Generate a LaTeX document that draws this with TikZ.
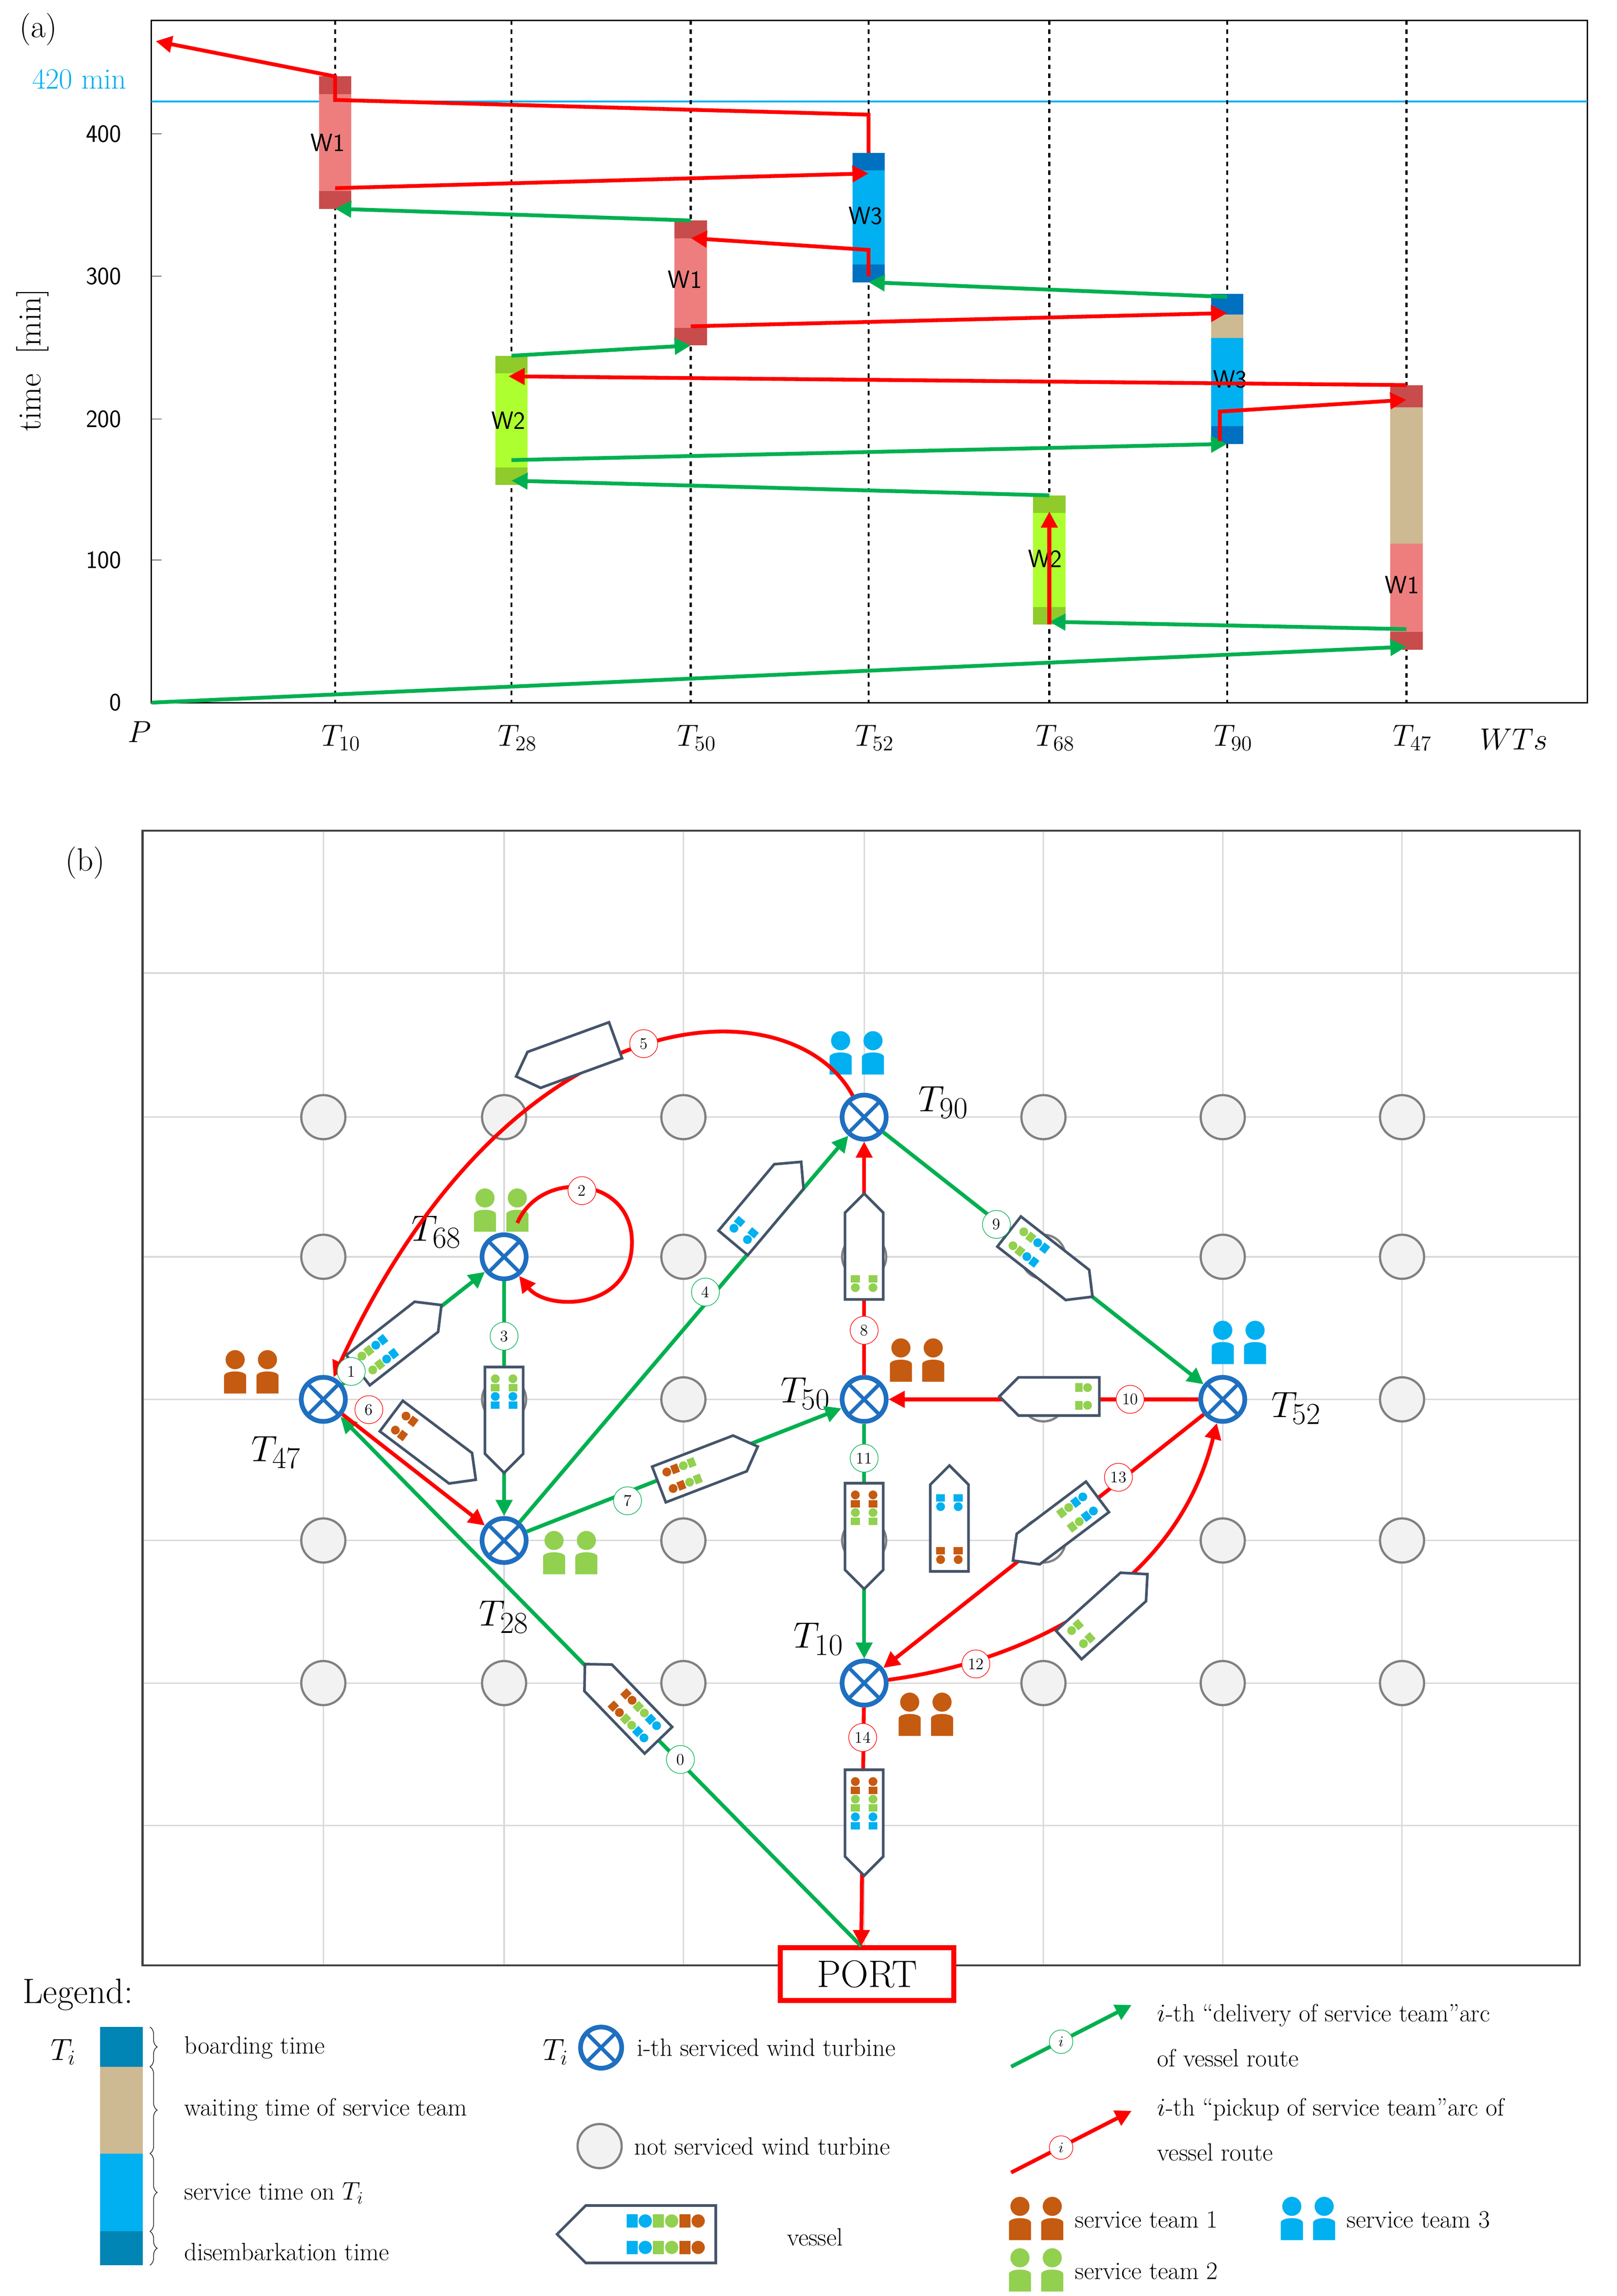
\documentclass[tikz,border=0pt]{standalone}
\usetikzlibrary{arrows.meta,decorations.pathreplacing}
\definecolor{rd}{HTML}{FF0000}
\definecolor{gn}{HTML}{00B050}
\definecolor{tb}{HTML}{1F6FC0}
\definecolor{tbrown}{HTML}{C55A11}
\definecolor{tgreen}{HTML}{92D050}
\definecolor{tblue}{HTML}{00B0F0}
\definecolor{vedge}{HTML}{44546A}
\definecolor{pinkw}{HTML}{EE7E7E}
\definecolor{pinkd}{HTML}{C84C4C}
\definecolor{bluew}{HTML}{00B0F0}
\definecolor{blued}{HTML}{0070C0}
\definecolor{greenw}{HTML}{ADFF2F}
\definecolor{greend}{HTML}{8FCB2A}
\definecolor{tan}{HTML}{CDB992}
\definecolor{cyanl}{HTML}{00B0F0}
\definecolor{lgb}{HTML}{0085B5}
\newcommand\fs[1]{\fontsize{#1}{#1}\selectfont}
\newcommand\vsl[5]{%
 \begin{scope}[shift={(#1,#2)},rotate=-#3]
 \draw[vesl] (-#4/2,-13)--(#4/2-13,-13)--(#4/2,0)--(#4/2-13,13)--(-#4/2,13)--cycle;
 \foreach \c [count=\k] in {#5} {
   \pgfmathsetmacro\xx{-#4/2-4+\k*12}
   \foreach \yy in {-6,6} {
     \fill[\c] (\xx,\yy) circle (3);
     \fill[\c] (\xx+3.5,\yy-3) rectangle (\xx+8.5,\yy+3);}
 }
 \end{scope}}
\newcommand\team[3]{%
 \foreach \dx in {-11,11}{
  \fill[#1] (#2+\dx,#3-9) circle (6.5);
  \fill[#1] (#2+\dx-7.5,#3+14) -- (#2+\dx-7.5,#3+2) arc (180:360:7.5 and 3) -- (#2+\dx+7.5,#3+14) -- cycle;}}
\newcommand\wbar[5]{\fill[#4] (#1-11,#2) rectangle (#1+11,#3);
 \fill[#5] (#1-11,#2) rectangle (#1+11,#2+12); \fill[#5] (#1-11,#3-12) rectangle (#1+11,#3);}
\tikzset{
 x=1pt,y=-1pt,
 wt/.style={circle,draw=tb,line width=3.2pt,minimum size=30pt,inner sep=0pt,fill=white,
   path picture={\draw[tb,line width=2.5pt] (path picture bounding box.south west)--(path picture bounding box.north east) (path picture bounding box.north west)--(path picture bounding box.south east);}},
 nwt/.style={circle,draw=gray,line width=1.5pt,fill=black!5,minimum size=30pt,inner sep=0pt},
 vesl/.style={draw=vedge,line width=1.8pt,fill=white,line join=miter},
 rarr/.style={draw=rd,line width=2.6pt,-{Triangle[length=11pt,width=11pt]}},
 garr/.style={draw=gn,line width=2.6pt,-{Triangle[length=11pt,width=11pt]}},
 lab/.style={circle,draw=#1,fill=white,inner sep=0pt,minimum size=19pt,font=\fs{11}},
 tlab/.style={font=\fs{29}},
 grid/.style={draw=black!15,line width=1pt},
 ax/.style={font=\fs{22}},
 wl/.style={font=\sffamily\fs{17}},
 legt/.style={font=\fs{17},anchor=west},
}
\begin{document}
\begin{tikzpicture}
\useasboundingbox (0,0) rectangle (1100,1562);
\fill[white] (0,0) rectangle (1100,1562);
%================ panel (a)
\node[font=\fs{22}] (pa) at (26,20) {(a)};
\draw[black,line width=1pt] (103,14) rectangle (1080,478);
\draw[cyanl,line width=1.2pt] (103,69) -- (1080,69);
\node[font=\fs{20},text=cyanl] (min420) at (54,54) {420 min};
\foreach \y/\t in {478/0,381/100,285/200,188/300,91/400}{
  \node[wl,anchor=east] at (86,\y) {\t};
  \draw (103,\y) -- (110,\y);}
\node[rotate=90,font=\fs{22}] (tl) at (22,245) {time\ \ [min]};
\foreach \x in {228,348,470,591,714,835,957}{
  \draw[dashed,line width=1.3pt] (\x,14) -- (\x,478);}
\node[ax] at (95,498) {$P$};
\foreach \x/\t in {228/10,348/28,470/50,591/52,714/68,835/90,957/47}{
  \node[ax] at (\x+4,502) {$T_{\t}$};}
\node[ax] at (1030,503) {$WTs$};
% bars
\wbar{228}{52}{142}{pinkw}{pinkd}
\wbar{470}{150}{235}{pinkw}{pinkd}
\wbar{591}{104}{192}{bluew}{blued}
\wbar{348}{242}{330}{greenw}{greend}
\wbar{714}{337}{425}{greenw}{greend}
\fill[bluew] (824,200) rectangle (846,302);
\fill[blued] (824,200) rectangle (846,214);
\fill[tan] (824,214) rectangle (846,230);
\fill[blued] (824,290) rectangle (846,302);
\fill[tan] (946,262) rectangle (968,442);
\fill[pinkd] (946,262) rectangle (968,277);
\fill[pinkw] (946,370) rectangle (968,430);
\fill[pinkd] (946,430) rectangle (968,442);
\node[wl] at (223,97) {W1};
\node[wl] at (466,190) {W1};
\node[wl] at (589,147) {W3};
\node[wl] at (346,286) {W2};
\node[wl] at (711,380) {W2};
\node[wl] at (837,258) {W3};
\node[wl] at (954,398) {W1};
% arrows (a)
\draw[garr] (103,478) -- (957,440);
\draw[garr] (957,428) -- (714,423);
\draw[rarr] (714,425) -- (714,348);
\draw[garr] (714,337) -- (348,327);
\draw[garr] (348,313) -- (835,302);
\draw[rarr] (830,300) -- (830,280) -- (957,272);
\draw[rarr] (957,262) -- (346,256);
\draw[garr] (348,242) -- (470,235);
\draw[rarr] (470,222) -- (835,213);
\draw[garr] (835,202) -- (591,192);
\draw[rarr] (591,188) -- (591,170) -- (470,162);
\draw[garr] (470,150) -- (228,142);
\draw[rarr] (228,128) -- (591,118);
\draw[rarr] (591,104) -- (591,78) -- (228,68) -- (228,52) -- (106,28);
%================ panel (b)
\node[font=\fs{22}] (pb) at (58,587) {(b)};
\foreach \x in {220,343,465,588,710,832,954}{\draw[grid] (\x,565) -- (\x,1337);}
\foreach \y in {662,760,855,952,1048,1145,1242}{\draw[grid] (97,\y) -- (1075,\y);}
\draw[black!75,line width=1.3pt] (97,565) rectangle (1075,1337);
\foreach \x in {220,343,465,588,710,832,954}{
 \foreach \y in {760,855,952,1048,1145}{
   \node[nwt] at (\x,\y) {};}}
\node[wt] (t90) at (588,760) {};
\node[wt] (t68) at (343,855) {};
\node[wt] (t47) at (220,952) {};
\node[wt] (t50) at (588,952) {};
\node[wt] (t52) at (832,952) {};
\node[wt] (t28) at (343,1048) {};
\node[wt] (t10) at (588,1145) {};
\node[draw=rd,line width=3.5pt,fill=white,minimum width=118pt,minimum height=36pt,font=\fs{26}] (port) at (590,1343) {PORT};
\coordinate (pt) at (586,1324);
\node[tlab] at (642,750) {$T_{90}$};
\node[tlab] at (297,838) {$T_{68}$};
\node[tlab] at (188,988) {$T_{47}$};
\node[tlab] at (548,948) {$T_{50}$};
\node[tlab] at (882,958) {$T_{52}$};
\node[tlab] at (343,1100) {$T_{28}$};
\node[tlab] at (557,1115) {$T_{10}$};
% teams
\team{tblue}{583}{717}
\team{tgreen}{341}{824}
\team{tbrown}{171}{934}
\team{tbrown}{624}{926}
\team{tblue}{843}{914}
\team{tgreen}{388}{1057}
\team{tbrown}{630}{1167}
% arcs
\draw[garr] (pt) -- (t47);
\draw[garr] (t47) -- (t68);
\draw[rarr] (352,832) .. controls (368,795) and (430,800) .. (430,845) .. controls (430,892) and (372,892) .. (t68);
\draw[garr] (t68) -- (t28);
\draw[garr] (t28) -- (t90);
\draw[rarr] (t90) .. controls (540,670) and (350,670) .. (t47);
\draw[rarr] (t47) -- (t28);
\draw[garr] (t28) -- (t50);
\draw[rarr] (t50) -- (t90);
\draw[garr] (t90) -- (t52);
\draw[rarr] (t52) -- (t50);
\draw[garr] (t50) -- (t10);
\draw[rarr] (t10) .. controls (700,1130) and (800,1080) .. (t52);
\draw[rarr] (t52) -- (t10);
\draw[rarr] (t10) -- (pt);
% vessels
\vsl{423}{1158}{-134}{72}{tblue,tgreen,tbrown}
\vsl{272}{910}{-38}{72}{tgreen,tblue}
\vsl{343}{966}{90}{72}{tgreen,tblue}
\vsl{522}{818}{-50}{72}{tblue}
\vsl{385}{720}{160}{72}{white}
\vsl{295}{985}{37}{72}{tbrown}
\vsl{482}{997}{-21}{72}{tbrown,tgreen}
\vsl{588}{848}{-90}{72}{tgreen}
\vsl{715}{860}{38}{72}{tgreen,tblue}
\vsl{714}{950}{180}{68}{tgreen}
\vsl{588}{1045}{90}{72}{tbrown,tgreen}
\vsl{646}{1033}{-90}{72}{tbrown,white,white,tblue}
\vsl{718}{1040}{143}{72}{tblue,tgreen}
\vsl{754}{1095}{-42}{72}{tgreen}
\vsl{588}{1240}{90}{72}{tbrown,tgreen,tblue}
% labels
\node[lab=gn] at (463,1197) {0};
\node[lab=gn] at (239,933) {1};
\node[lab=rd] at (396,810) {2};
\node[lab=gn] at (343,909) {3};
\node[lab=gn] at (480,879) {4};
\node[lab=rd] at (438,710) {5};
\node[lab=rd] at (251,959) {6};
\node[lab=gn] at (427,1021) {7};
\node[lab=rd] at (588,905) {8};
\node[lab=gn] at (678,833) {9};
\node[lab=rd] at (769,952) {10};
\node[lab=gn] at (588,992) {11};
\node[lab=rd] at (664,1132) {12};
\node[lab=rd] at (761,1005) {13};
\node[lab=rd] at (587,1182) {14};
%================ legend
\node[font=\fs{24},anchor=west] (leg) at (12,1357) {Legend:};
\node[font=\fs{22}] at (43,1396) {$T_i$};
\fill[lgb] (68,1379) rectangle (97,1406);
\fill[tan] (68,1406) rectangle (97,1465);
\fill[tblue] (68,1465) rectangle (97,1518);
\fill[lgb] (68,1518) rectangle (97,1541);
\foreach \a/\b in {1379/1406,1406/1465,1465/1518,1518/1541}{
  \draw[decorate,decoration={brace,amplitude=5pt}] (102,\a) -- (102,\b);}
\node[legt] at (122,1393) {boarding time};
\node[legt] at (122,1435) {waiting time of service team};
\node[legt] at (122,1492) {service time on $T_i$};
\node[legt] at (122,1532) {disembarkation time};
\node[font=\fs{22}] at (378,1396) {$T_i$};
\node[wt,minimum size=28pt] (lwt) at (409,1393) {};
\node[legt] at (430,1393) {i-th serviced wind turbine};
\node[nwt] (lnwt) at (408,1460) {};
\node[legt] at (428,1460) {not serviced wind turbine};
\begin{scope}[scale=1.5]
\vsl{288.7}{1013.3}{180}{72}{tbrown,tgreen,tblue}
\end{scope}
\node[legt] at (532,1522) {vessel};
\coordinate (ga) at (688,1406); \coordinate (gb) at (770,1364);
\draw[garr] (ga) -- (gb);
\node[lab=gn,minimum size=16pt,font=\fs{10}] at (722,1389) {$i$};
\coordinate (ra) at (688,1478); \coordinate (rb) at (770,1436);
\draw[rarr] (ra) -- (rb);
\node[lab=rd,minimum size=16pt,font=\fs{10}] at (722,1461) {$i$};
\node[legt] at (784,1371) {$i$-th ``delivery of service team''arc};
\node[legt] at (784,1400) {of vessel route};
\node[legt] at (784,1435) {$i$-th ``pickup of service team''arc of};
\node[legt] at (784,1464) {vessel route};
\team{tbrown}{705}{1510}
\node[legt] at (728,1510) {service team 1};
\team{tblue}{890}{1510}
\node[legt] at (913,1510) {service team 3};
\team{tgreen}{705}{1545}
\node[legt] at (728,1545) {service team 2};
\end{tikzpicture}
\end{document}
